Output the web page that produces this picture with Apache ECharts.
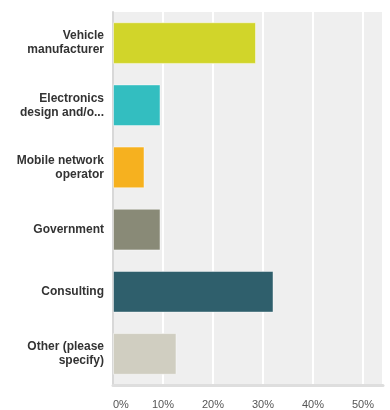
<!DOCTYPE html>
<html><head><meta charset="utf-8">
<script src="https://cdn.jsdelivr.net/npm/echarts@6/dist/echarts.min.js"></script>
<style>html,body{margin:0;padding:0;background:#fff}#c{width:390px;height:410px}</style>
</head><body><div id="c"></div>
<script>
var categories = ["Vehicle\nmanufacturer", "Electronics\ndesign and/o...", "Mobile network\noperator", "Government", "Consulting", "Other (please\nspecify)"];
var values = [28.6, 9.5, 6.3, 9.5, 32.1, 12.7];
var colors = ["#d1d52a", "#33bec0", "#f6b11f", "#898a77", "#2f5f6c", "#d0cec1"];
var tickLabels = ["0%", "10%", "20%", "30%", "40%", "50%"];

var chart = echarts.init(document.getElementById('c'), null, {renderer: 'canvas'});
chart.setOption({
  animation: false,
  title: {
    text: 'Which type of organisation do you represent?',
    left: 8, top: -19,
    textStyle: {fontFamily: 'Liberation Sans, Arial', fontSize: 14, fontWeight: 'bold', color: '#222'}
  },
  grid: {left: 113, right: 7, top: 12, bottom: 24, show: true, backgroundColor: '#efefef', borderWidth: 0},
  xAxis: {
    type: 'value', min: 0, max: 54, interval: 10,
    axisLine: {show: true, onZero: false, lineStyle: {color: '#dedede', width: 3}},
    axisTick: {show: false},
    splitLine: {show: true, lineStyle: {color: '#ffffff', width: 2}},
    axisLabel: {
      margin: 14, color: '#555', fontFamily: 'Liberation Sans, Arial', fontSize: 11,
      alignMinLabel: 'left', showMaxLabel: false,
      formatter: function (v) { var i = Math.round(v / 10); return tickLabels[i] !== undefined && v % 10 === 0 ? tickLabels[i] : ''; }
    }
  },
  yAxis: {
    type: 'category', data: categories, inverse: true,
    axisLine: {show: true, lineStyle: {color: '#d8d8d8', width: 2}},
    axisTick: {show: false},
    axisLabel: {margin: 9, color: '#333', fontFamily: 'Liberation Sans, Arial', fontSize: 12, fontWeight: 'bold', lineHeight: 14, align: 'right'}
  },
  series: [{
    type: 'bar', barCategoryGap: '33%',
    data: values.map(function (v, i) { return {value: v, itemStyle: {color: colors[i]}}; }),
    itemStyle: {borderColor: 'rgba(255,255,255,0.45)', borderWidth: 1}
  }]
});
</script></body></html>
